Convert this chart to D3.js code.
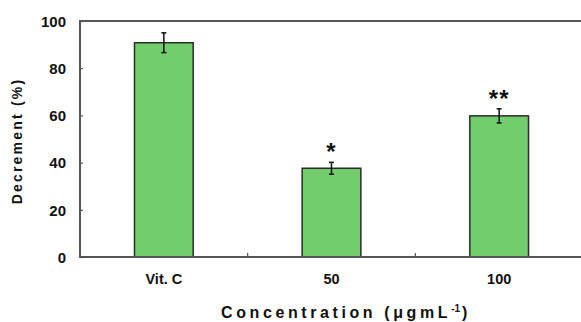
<!DOCTYPE html>
<html>
<head>
<meta charset="utf-8">
<script src="https://cdn.jsdelivr.net/npm/d3@7"></script>
<style>
    body { margin: 0; background: #fff; }
    text { font-family: 'Liberation Sans', Arial, sans-serif; font-weight: bold; fill: #111; }
</style>
</head>
<body>
<svg id="chart"></svg>
<script>
const categories = ['Vit. C', '50', '100'];
const values = [90.8, 37.6, 59.8];
const errors = [4.2, 2.5, 3.0];
const marks = ['', '*', '**'];
const yTicks = [0, 20, 40, 60, 80, 100];

const W = 581, H = 322;
const margin = { top: 21, right: -2, bottom: 65, left: 80 };
const width = W - margin.left - margin.right;
const height = H - margin.top - margin.bottom;

const svg = d3.select('#chart')
    .attr('width', W)
    .attr('height', H);

const g = svg.append('g')
    .attr('transform', `translate(${margin.left},${margin.top})`);

const x = d3.scaleBand()
    .domain(categories)
    .range([0, width])
    .paddingInner(0.65)
    .paddingOuter(0.325);

const y = d3.scaleLinear()
    .domain([0, 100])
    .range([height, 0]);

// bars
g.append('g')
    .selectAll('rect')
    .data(values)
    .enter()
    .append('rect')
        .attr('x', (d, i) => x(categories[i]))
        .attr('y', d => y(d))
        .attr('width', x.bandwidth())
        .attr('height', d => height - y(d))
        .attr('fill', '#72cd6c')
        .attr('stroke', '#2a2a2a')
        .attr('stroke-width', 1.5);

// error bars
const eb = g.append('g')
    .selectAll('g')
    .data(values)
    .enter()
    .append('g')
        .attr('transform', (d, i) => `translate(${x(categories[i]) + x.bandwidth() / 2},0)`);

eb.append('line')
    .attr('y1', (d, i) => y(d + errors[i]))
    .attr('y2', (d, i) => y(d - errors[i]))
    .attr('stroke', '#111')
    .attr('stroke-width', 1.5);

[1, -1].forEach(s => {
    eb.append('line')
        .attr('x1', -2.5)
        .attr('x2', 2.5)
        .attr('y1', (d, i) => y(d + s * errors[i]))
        .attr('y2', (d, i) => y(d + s * errors[i]))
        .attr('stroke', '#111')
        .attr('stroke-width', 1.5);
});

// significance marks
eb.append('text')
    .text((d, i) => marks[i])
    .attr('y', (d, i) => y(d + errors[i]) - 2)
    .attr('text-anchor', 'middle')
    .style('font-size', '24px')
    .style('letter-spacing', '1px');

// axes
const yAxis = g.append('g')
    .call(d3.axisRight(y).tickValues(yTicks).tickSize(3).tickFormat(d3.format('d')));
yAxis.select('.domain').remove();
yAxis.selectAll('.tick line').attr('stroke', '#555').attr('stroke-width', 1.2);
yAxis.selectAll('.tick text')
    .attr('x', -14)
    .attr('text-anchor', 'end')
    .attr('dy', '0.35em')
    .style('font-size', '15px');

const xAxis = g.append('g')
    .attr('transform', `translate(0,${height})`)
    .call(d3.axisBottom(x).tickSize(0));
xAxis.select('.domain').remove();
xAxis.selectAll('.tick text')
    .attr('y', 17)
    .style('font-size', '14.5px');

// category separators
g.append('g')
    .selectAll('line')
    .data(categories.slice(1))
    .enter()
    .append('line')
        .attr('x1', d => x(d) - x.step() * x.paddingOuter())
        .attr('x2', d => x(d) - x.step() * x.paddingOuter())
        .attr('y1', height)
        .attr('y2', height - 4)
        .attr('stroke', '#555')
        .attr('stroke-width', 1.2);

// frame (left, bottom, top)
g.append('path')
    .attr('d', `M${width},0H0V${height}H${width}`)
    .attr('fill', 'none')
    .attr('stroke', '#555')
    .attr('stroke-width', 2);

// titles
svg.append('text')
    .attr('transform', `translate(17,141) rotate(-90)`)
    .attr('text-anchor', 'middle')
    .attr('dy', '0.35em')
    .style('font-size', '14px')
    .style('letter-spacing', '2.2px')
    .text('Decrement (%)');

const xt = svg.append('text')
    .attr('x', 346)
    .attr('y', 318)
    .attr('text-anchor', 'middle')
    .style('font-size', '16px')
    .style('letter-spacing', '3.6px')
    .text('Concentration (μgmL');
xt.append('tspan')
    .attr('dy', -6)
    .style('font-size', '10px')
    .style('letter-spacing', '0px')
    .text('-1');
xt.append('tspan')
    .attr('dy', 6)
    .attr('dx', 2)
    .text(')');
</script>
</body>
</html>
